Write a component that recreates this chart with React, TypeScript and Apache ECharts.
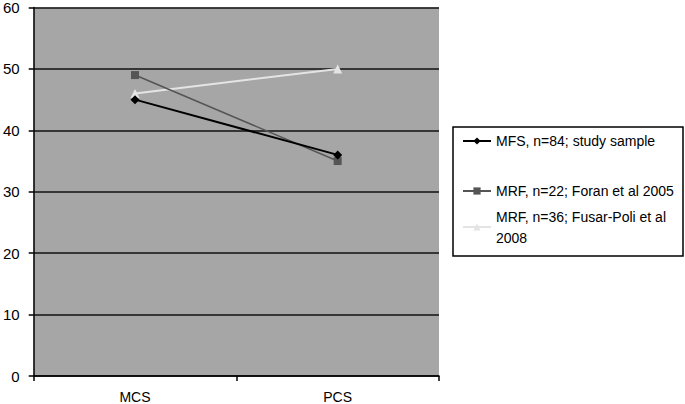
import React, { useEffect, useRef } from "react";
import * as echarts from "echarts";

const categories = ["MCS", "PCS"];
const seriesNames = [
  "MFS, n=84; study sample",
  "MRF, n=22; Foran et al 2005",
  "MRF, n=36; Fusar-Poli et al 2008",
];
const mfsValues = [45, 36];
const foranValues = [49, 35];
const fusarValues = [46, 50];
const yTicks = [0, 10, 20, 30, 40, 50, 60];

const FONT = "'Liberation Sans', Arial, sans-serif";

export default function App() {
  const ref = useRef<HTMLDivElement>(null);
  useEffect(() => {
    if (!ref.current) return;
    const chart = echarts.init(ref.current, undefined, { renderer: "svg" });
    const legendBase = {
      orient: "vertical" as const,
      left: 462,
      padding: 0,
      itemWidth: 28,
      itemHeight: 9,
      textStyle: { fontFamily: FONT, fontSize: 14, color: "#000" },
      selectedMode: false,
    };
    chart.setOption({
      animation: false,
      backgroundColor: "#ffffff",
      grid: {
        left: 32,
        top: 5,
        width: 407,
        height: 371,
        show: true,
        backgroundColor: "#a6a6a6",
        borderWidth: 0,
      },
      xAxis: {
        type: "category",
        data: categories,
        axisLine: { lineStyle: { color: "#000", width: 1.5 } },
        axisTick: { show: true, length: 5, lineStyle: { color: "#000", width: 1.5 } },
        axisLabel: { fontFamily: FONT, fontSize: 14, color: "#000", margin: 14 },
      },
      yAxis: {
        type: "value",
        min: yTicks[0],
        max: yTicks[yTicks.length - 1],
        interval: 10,
        axisLine: { show: true, lineStyle: { color: "#000", width: 1.5 } },
        axisTick: { show: true, length: 5, lineStyle: { color: "#000", width: 1.5 } },
        axisLabel: { fontFamily: FONT, fontSize: 15, color: "#000", margin: 14 },
        splitLine: { show: true, lineStyle: { color: "#111", width: 1.5 } },
      },
      graphic: [
        {
          type: "rect",
          shape: { x: 453, y: 127, width: 230, height: 129 },
          style: { fill: "#ffffff", stroke: "#000", lineWidth: 1.5 },
          z: 0,
        },
      ],
      legend: [
        { ...legendBase, top: 134, data: [seriesNames[0]], z: 5 },
        { ...legendBase, top: 184, data: [seriesNames[1]], z: 5 },
        {
          ...legendBase,
          top: 206,
          data: [seriesNames[2]],
          z: 5,
          formatter: () => "MRF, n=36; Fusar-Poli et al\n2008",
          textStyle: { ...legendBase.textStyle, lineHeight: 21 },
        },
      ],
      series: [
        {
          name: seriesNames[0],
          type: "line",
          data: mfsValues,
          symbol: "diamond",
          symbolSize: 9,
          itemStyle: { color: "#000" },
          lineStyle: { color: "#000", width: 2 },
          z: 4,
        },
        {
          name: seriesNames[1],
          type: "line",
          data: foranValues,
          symbol: "rect",
          symbolSize: 8,
          itemStyle: { color: "#555" },
          lineStyle: { color: "#555", width: 1.5 },
          z: 3,
        },
        {
          name: seriesNames[2],
          type: "line",
          data: fusarValues,
          symbol: "triangle",
          symbolSize: 9,
          itemStyle: { color: "#e4e4e4" },
          lineStyle: { color: "#e4e4e4", width: 2 },
          z: 2,
        },
      ],
    });
    return () => chart.dispose();
  }, []);
  return (
    <div
      ref={ref}
      style={{ position: "fixed", left: 0, top: 0, width: 685, height: 404 }}
    />
  );
}
